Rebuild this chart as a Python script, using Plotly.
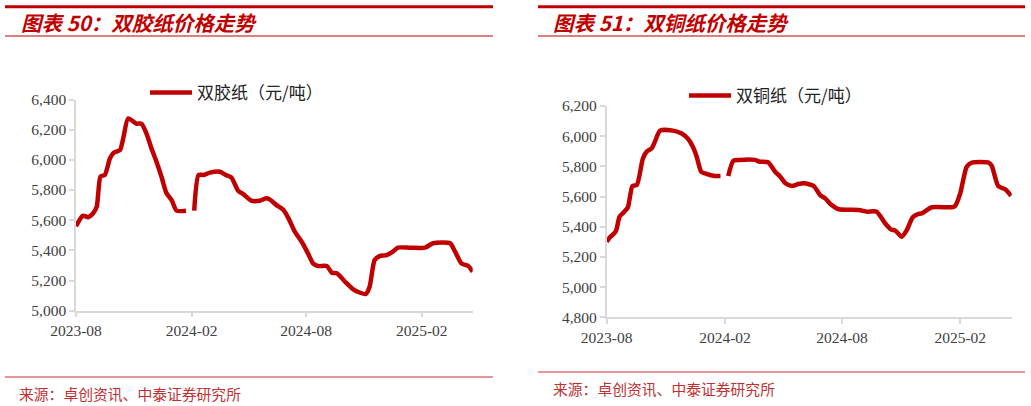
import plotly.graph_objects as go

# 双胶纸价格 (元/吨)
offset_dates = ['2023-08-01', '2023-08-12', '2023-08-20', '2023-08-28', '2023-09-03', '2023-09-09',
                '2023-09-16', '2023-09-24', '2023-09-30', '2023-10-10', '2023-10-15', '2023-10-23',
                '2023-11-05', '2023-11-13', '2023-11-21', '2023-11-29', '2023-12-07', '2023-12-15',
                '2023-12-23', '2023-12-31', '2024-01-08', '2024-01-23', '2024-01-30',
                '2024-02-05', '2024-02-12', '2024-02-20', '2024-03-01', '2024-03-17', '2024-03-26',
                '2024-04-04', '2024-04-15', '2024-04-23', '2024-05-06', '2024-05-19', '2024-05-30',
                '2024-06-04', '2024-06-15', '2024-06-26', '2024-07-04', '2024-07-14', '2024-07-25',
                '2024-08-04', '2024-08-12', '2024-08-20', '2024-09-03', '2024-09-11', '2024-09-19',
                '2024-10-02', '2024-10-15', '2024-10-26', '2024-11-04', '2024-11-10', '2024-11-18',
                '2024-11-26', '2024-12-07', '2024-12-17', '2024-12-25', '2025-01-13', '2025-02-06',
                '2025-02-19', '2025-03-18', '2025-03-26', '2025-04-05', '2025-04-16', '2025-04-23']
offset_price = [5560, 5630, 5620, 5645, 5690, 5890,
                5900, 6010, 6047, 6065, 6140, 6275,
                6240, 6240, 6176, 6076, 5988, 5888,
                5778, 5734, 5663, 5663, None,
                5663, 5900, 5900, 5915, 5921, 5900,
                5884, 5795, 5773, 5729, 5729, 5745,
                5738, 5700, 5667, 5612, 5524, 5457,
                5380, 5314, 5296, 5296, 5252, 5248,
                5192, 5142, 5119, 5111, 5159, 5336,
                5362, 5369, 5391, 5418, 5418, 5418,
                5447, 5447, 5391, 5314, 5296, 5258]

# 双铜纸价格 (元/吨)
coated_dates = ['2023-08-01', '2023-08-06', '2023-08-15', '2023-08-21', '2023-08-27', '2023-09-03',
                '2023-09-10', '2023-09-17', '2023-09-26', '2023-10-02', '2023-10-10', '2023-10-15',
                '2023-10-23', '2023-11-12', '2023-11-25', '2023-12-06', '2023-12-13', '2023-12-19',
                '2023-12-26', '2024-01-03', '2024-01-16', '2024-01-25', '2024-01-31',
                '2024-02-06', '2024-02-14', '2024-02-24', '2024-03-18', '2024-03-26', '2024-04-08',
                '2024-04-19', '2024-04-27', '2024-05-05', '2024-05-15', '2024-05-25', '2024-06-03',
                '2024-06-18', '2024-06-28', '2024-07-06', '2024-07-14', '2024-07-27', '2024-08-27',
                '2024-09-09', '2024-09-24', '2024-10-07', '2024-10-16', '2024-10-23', '2024-11-02',
                '2024-11-10', '2024-11-19', '2024-11-27', '2024-12-03', '2024-12-19', '2025-01-19',
                '2025-01-24', '2025-02-01', '2025-02-11', '2025-02-19', '2025-03-17', '2025-03-22',
                '2025-04-01', '2025-04-12', '2025-04-21']
coated_price = [5300, 5330, 5367, 5467, 5493, 5529,
                5670, 5677, 5847, 5897, 5920, 5964,
                6037, 6037, 6019, 5980, 5930, 5864,
                5765, 5750, 5736, 5736, None,
                5736, 5838, 5843, 5843, 5831, 5827,
                5765, 5732, 5688, 5670, 5683, 5688,
                5670, 5610, 5588, 5551, 5516, 5511,
                5500, 5500, 5423, 5383, 5374, 5334,
                5379, 5463, 5484, 5489, 5529, 5529,
                5538, 5622, 5798, 5825, 5825, 5803,
                5670, 5648, 5604]

tick_dates = ['2023-08-01', '2024-02-01', '2024-08-01', '2025-02-01']
tick_labels = ['2023-08', '2024-02', '2024-08', '2025-02']

RED = '#C00000'
W, H = 1031, 406

fig = go.Figure()
fig.add_trace(go.Scatter(x=offset_dates, y=offset_price, mode='lines', name='双胶纸（元/吨）',
                         line=dict(color=RED, width=4.5, shape='spline', smoothing=0.6),
                         connectgaps=False, xaxis='x', yaxis='y', legend='legend'))
fig.add_trace(go.Scatter(x=coated_dates, y=coated_price, mode='lines', name='双铜纸（元/吨）',
                         line=dict(color=RED, width=4.5, shape='spline', smoothing=0.6),
                         connectgaps=False, xaxis='x2', yaxis='y2', legend='legend2'))


def px_x(v):
    return v / W


def px_y(v):
    return 1 - v / H


axis_common = dict(showgrid=False, zeroline=False, showline=True, linecolor='#d9d9d9', linewidth=1.5,
                   ticks='outside', tickcolor='#d9d9d9', ticklen=5, tickwidth=1.5, automargin=False,
                   tickfont=dict(family='Liberation Serif', size=15.5, color='#404040'))

fig.update_layout(
    template='none',
    width=W, height=H,
    margin=dict(l=0, r=0, t=0, b=0, pad=0),
    paper_bgcolor='white', plot_bgcolor='white',
    xaxis=dict(domain=[px_x(76), px_x(472.7)], anchor='y',
               range=['2023-08-01', '2025-04-23'],
               tickvals=tick_dates, ticktext=tick_labels, **axis_common),
    yaxis=dict(domain=[px_y(310.7), px_y(99.5)], anchor='x',
               range=[5000, 6400], dtick=200, tickformat=',', **axis_common),
    xaxis2=dict(domain=[px_x(606.7), px_x(1011.7)], anchor='y2',
                range=['2023-08-01', '2025-04-22'],
                tickvals=tick_dates, ticktext=tick_labels, **axis_common),
    yaxis2=dict(domain=[px_y(317.3), px_y(106)], anchor='x2',
                range=[4800, 6200], dtick=200, tickformat=',', **axis_common),
    legend=dict(x=px_x(145), y=px_y(93), xanchor='left', yanchor='middle',
                bgcolor='rgba(0,0,0,0)', itemwidth=42,
                font=dict(family='Noto Sans CJK SC', size=17, color='#222222')),
    legend2=dict(x=px_x(684), y=px_y(96), xanchor='left', yanchor='middle',
                 bgcolor='rgba(0,0,0,0)', itemwidth=42,
                 font=dict(family='Noto Sans CJK SC', size=17, color='#222222')),
    showlegend=True,
)

shapes = []
annotations = []
panels = [
    (5, 493, '图表 50：双胶纸价格走势', 19, 393, 17),
    (538, 1025, '图表 51：双铜纸价格走势', 551, 388, 551),
]
for x0, x1, title, tx, sy, sx in panels:
    shapes.append(dict(type='line', xref='paper', yref='paper', x0=px_x(x0), x1=px_x(x1),
                       y0=px_y(6.7), y1=px_y(6.7), line=dict(color=RED, width=3)))
    shapes.append(dict(type='line', xref='paper', yref='paper', x0=px_x(x0), x1=px_x(x1),
                       y0=px_y(36), y1=px_y(36), line=dict(color=RED, width=1.2)))
    shapes.append(dict(type='line', xref='paper', yref='paper', x0=px_x(x0), x1=px_x(x1),
                       y0=px_y(sy - 16), y1=px_y(sy - 16), line=dict(color='#D03030', width=1.2)))
    annotations.append(dict(text='<b><i>' + title + '</i></b>', xref='paper', yref='paper',
                            x=px_x(tx), y=px_y(22.5), xanchor='left', yanchor='middle', showarrow=False,
                            font=dict(family='Noto Sans CJK SC', size=20.5, color=RED)))
    annotations.append(dict(text='来源：卓创资讯、中泰证券研究所', xref='paper', yref='paper',
                            x=px_x(sx), y=px_y(sy), xanchor='left', yanchor='middle', showarrow=False,
                            font=dict(family='Noto Sans CJK SC', size=14.8, color='#C03030')))

fig.update_layout(shapes=shapes, annotations=annotations)

fig.write_html('out.html', config={'displayModeBar': False},
               post_script="document.body.style.margin='0';")
